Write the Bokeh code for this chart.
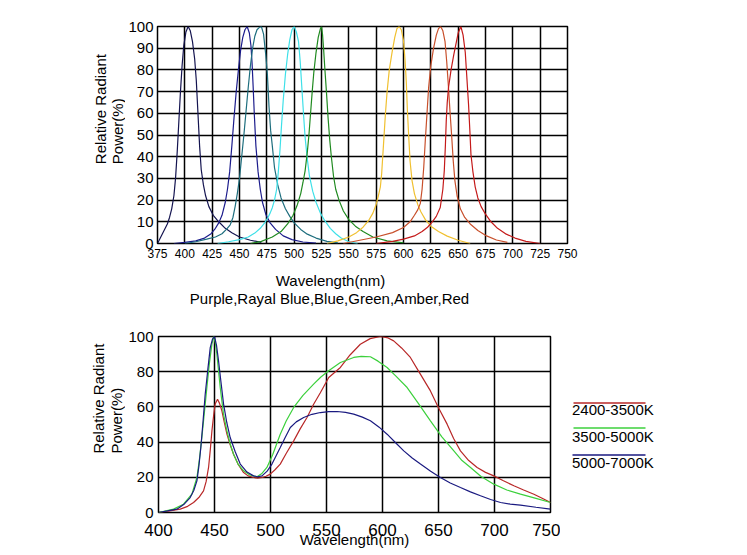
from math import pi
from bokeh.plotting import figure
from bokeh.layouts import column, row
from bokeh.models import FixedTicker, Range1d
from bokeh.core.properties import value
from bokeh.embed import file_html
from bokeh.resources import INLINE

FONT = "Liberation Sans"

# ---------------- data: top chart (single colour LEDs) ----------------
top_x_ticks = [375, 400, 425, 450, 475, 500, 525, 550, 575, 600, 625, 650, 675, 700, 725, 750]
top_y_ticks = [0, 10, 20, 30, 40, 50, 60, 70, 80, 90, 100]
top_caption = "Purple,Rayal Blue,Blue,Green,Amber,Red"

purple_x = [375, 378, 381, 384, 386, 388, 390, 391.5, 393, 394.5, 396, 397.5, 399, 401, 403, 405, 407, 409, 410.5, 412, 413.5, 415, 417, 419, 422, 426, 431, 437, 443, 450, 460, 470]
purple_y = [0, 3, 6, 9, 12, 16, 22, 30, 42, 56, 70, 82, 91, 97.5, 100, 98, 93, 85, 75, 60, 45, 34, 27, 22, 17, 13, 10, 7, 5, 3, 1.5, 0.5]

royal_x = [390, 400, 410, 418, 424, 428, 431, 434, 437, 439, 441, 443, 445, 447, 449, 451, 453, 455, 457, 459, 460.5, 461.5, 462.5, 463.5, 465, 467, 469, 471, 474, 478, 483, 490, 498, 508, 520]
royal_y = [0, 0.5, 1.2, 2.5, 4.5, 7, 9.5, 13, 19, 25, 33, 45, 58, 70, 80, 89, 95, 98.5, 100, 97, 91, 83, 72, 60, 45, 33, 25, 19, 13.5, 9.5, 6.5, 3.5, 1.8, 0.7, 0.2]

blue_x = [400, 410, 420, 428, 434, 438, 441.5, 444, 446, 448, 450, 452, 454, 456, 458, 460, 462, 464, 466, 468, 470, 472, 474, 475.5, 477, 478.5, 480, 482, 485, 488, 492, 496, 500, 506, 512, 520, 530, 540]
blue_y = [0, 0.8, 2, 3, 4.5, 6.5, 8.6, 12, 17, 23, 30, 40, 50, 61, 72, 82, 90, 95.5, 98.5, 99.5, 100, 96.5, 87, 78, 63, 52, 45, 35, 27, 21, 16, 12.5, 9.5, 6.5, 4.3, 2.5, 1, 0.3]

cyan_x = [430, 440, 450, 458, 464, 469, 473, 476, 478, 480, 482, 484, 485.5, 487, 488.5, 490, 492, 494, 496, 498, 500, 502, 504, 505.5, 507, 508.5, 510, 512, 514, 517, 520, 524, 528, 533, 538, 543, 550, 558]
cyan_y = [0, 0.8, 1.8, 3, 4.8, 7, 9.5, 12, 14, 16.5, 20, 25, 33, 43, 55, 66, 78, 87, 94, 98.5, 100, 97.5, 93, 84, 72, 60, 49, 39, 31, 24, 19, 14, 10.5, 7, 4.5, 2.5, 0.8, 0]

green_x = [460, 470, 480, 488, 494, 499, 503, 506, 508, 510, 512, 513.5, 515, 516.5, 518, 520, 522, 524, 525, 526, 527, 528, 529.5, 531, 532.5, 534, 536, 538, 541, 545, 550, 556, 563, 572, 585, 600]
green_y = [0, 1, 3, 5.5, 9, 13, 18, 23, 28, 33.5, 42, 50, 60, 70, 79, 88, 95, 99, 100, 96, 89, 81, 70, 58, 48, 40, 31, 25, 20, 15, 11, 8, 5.5, 3, 1.2, 0.3]

amber_x = [530, 540, 550, 557, 563, 568, 572, 575, 577, 578.8, 580, 581, 582, 583.5, 585, 587, 589.5, 592, 594, 596, 598, 600, 601.5, 602.6, 603.5, 604.7, 606, 607.8, 610, 613, 616, 620, 625, 632, 640, 650, 661]
amber_y = [0, 1.2, 3, 5, 7.5, 10.5, 14, 18, 22, 26, 32, 40, 48, 60, 70, 80, 88, 95, 99, 100, 98.5, 93.5, 84, 74, 62, 50, 38, 29, 23, 18, 14.5, 11, 8, 5.5, 3.4, 1.5, 0]

orange_x = [545, 560, 575, 590, 600, 606, 610, 613, 615.4, 617, 618.5, 620, 621.5, 623, 625, 627.5, 630, 632, 634, 636, 638, 639.5, 641, 642.5, 644, 645.5, 647, 649, 652, 656, 661, 668, 676, 685, 695]
orange_y = [0, 1.5, 3, 5, 7.4, 10, 13, 15.5, 18.5, 25, 35, 48, 60, 72, 82, 90, 96, 99, 100, 98, 93, 84, 73, 61, 50, 38, 29, 22, 16, 12, 9, 6, 3.5, 1.6, 0.5]

red_x = [575, 590, 600, 610, 617, 622, 626, 630, 633.6, 636, 637.3, 638.3, 639.1, 640, 641.2, 643.5, 646, 648, 650, 652.5, 654.5, 656.5, 658, 659.5, 660.7, 661.7, 663.5, 665.6, 668, 671, 675, 680, 686, 694, 702, 712, 725]
red_y = [0, 1, 2, 3.5, 5.5, 7.5, 9.7, 12.5, 16.6, 25, 33.5, 45, 56.5, 65, 72, 80, 87, 92, 97, 100, 96, 88, 76, 64, 52, 41, 33, 26, 21, 17, 13.5, 10, 7, 4.3, 2.5, 1, 0]

top_series = [
    (purple_x, purple_y, "#141450"),
    (royal_x, royal_y, "#1c1c8c"),
    (blue_x, blue_y, "#1e6e7e"),
    (cyan_x, cyan_y, "#3ee0e8"),
    (green_x, green_y, "#208a20"),
    (amber_x, amber_y, "#f0c030"),
    (orange_x, orange_y, "#c8502c"),
    (red_x, red_y, "#c41a1a"),
]

# ---------------- data: bottom chart (white LEDs) ----------------
bot_x_ticks = [400, 450, 500, 550, 600, 650, 700, 750]
bot_y_ticks = [0, 20, 40, 60, 80, 100]

warm_x = [400, 410, 419.4, 426, 431.3, 436, 440.2, 442.5, 444.7, 446.3, 447.7, 449.2, 450.6, 452.7, 454.5, 456.6, 458.8, 461.1, 464, 467, 471, 476, 480, 484.9, 488.5, 492.4, 496, 499.8, 504, 508.7, 514, 520.7, 526.5, 532.6, 538.5, 544.5, 552, 562.4, 571, 580.2, 589, 598.1, 605, 610, 617, 624.9, 633, 642.8, 650, 657.7, 663.5, 669.6, 677, 684.5, 692, 699.4, 708, 717.3, 726, 735.2, 743, 750]
warm_y = [0, 0.9, 1.9, 3.5, 5.7, 8.5, 12.3, 17.5, 25.6, 36, 46.4, 55, 61.6, 64.4, 62, 57.8, 51, 44.5, 38.5, 33.1, 27.5, 22.7, 20.8, 19.9, 19.5, 19.9, 20.6, 21.8, 24.3, 27.5, 33.5, 40.7, 47.5, 54, 61.5, 68, 76.7, 82.4, 89.5, 95.6, 98.8, 100, 99.2, 97.5, 93.5, 88.1, 79.5, 69.1, 59.5, 50.2, 42, 35, 29.5, 25.6, 22.8, 20.8, 18, 15.2, 12.8, 10.4, 8, 5.7]

neutral_x = [400, 413.4, 422.3, 429.8, 434.3, 436.5, 438.7, 441, 443.2, 445.5, 447.7, 449.2, 450.6, 452.1, 455.1, 458, 461.1, 464, 467, 471, 476, 481.5, 487.9, 492, 496.8, 502, 508.7, 514, 520.7, 529, 538.5, 545, 551.9, 562.4, 574.3, 581, 589.2, 596, 604.1, 612, 622, 632, 642.8, 653, 663.7, 671, 678.6, 688, 699.4, 711, 723.2, 737, 750]
neutral_y = [0, 1.9, 4.7, 10.4, 19.9, 30, 42.6, 57, 71, 85, 95.6, 100, 97, 90, 71, 56, 46.4, 39, 33.1, 27.5, 23.7, 21.3, 20.3, 22, 25.6, 33, 44.5, 52, 59.7, 66.5, 72.9, 77, 80.5, 85.2, 88.1, 88.7, 88.5, 86, 82.4, 77.5, 71, 62, 52.1, 43, 35, 29.5, 25.6, 20.5, 16.1, 12.8, 10.4, 8, 5.7]

cool_x = [400, 408, 416.4, 422.5, 428.3, 431.5, 434.3, 436, 437.8, 439.8, 441.7, 444, 446.2, 448.2, 450, 451.8, 453.6, 455.8, 458.1, 461, 464, 468.5, 473, 479, 484.9, 488.5, 492.4, 497, 501.3, 504.8, 508.7, 513, 517.7, 523, 529.6, 537, 544.5, 552, 559.4, 567, 574.3, 582, 589.2, 597, 604.1, 611.5, 619, 626.5, 633.9, 643, 651.7, 660.5, 669.6, 678.5, 687.5, 696.5, 705.4, 714, 723.2, 737, 750]
cool_y = [0, 0.9, 1.9, 4.5, 8.5, 12.5, 18, 26, 36.9, 52, 67.2, 81, 93.7, 98.5, 100, 95, 86.2, 74, 61.6, 51, 42.6, 34.5, 27.5, 23, 20.8, 20.3, 20.8, 23.5, 27.5, 32, 36.9, 42.5, 48.3, 51.5, 54, 55.8, 56.8, 57.3, 57.4, 56.9, 55.9, 54.2, 52.1, 48.5, 44.5, 39.8, 35, 31, 27.5, 23.5, 19.9, 16.8, 14.2, 11.7, 9.5, 7.4, 5.7, 4.8, 4.2, 3, 1.9]

legend_labels = ["2400-3500K", "3500-5000K", "5000-7000K"]
bot_colors = ["#b82828", "#3cd03c", "#1a1a80"]
bot_series = [(warm_x, warm_y), (neutral_x, neutral_y), (cool_x, cool_y)]


def style(p, xsize, ysize, xstand, ystand):
    p.outline_line_color = "black"
    p.outline_line_width = 1.5
    p.background_fill_color = "white"
    p.border_fill_color = "white"
    for g in (p.xgrid[0], p.ygrid[0]):
        g.grid_line_color = "black"
        g.grid_line_alpha = 1.0
        g.grid_line_width = 1.5
    for ax, size, stand in ((p.xaxis[0], xsize, xstand), (p.yaxis[0], ysize, ystand)):
        ax.axis_line_color = None
        ax.major_tick_line_color = None
        ax.minor_tick_line_color = None
        ax.major_tick_out = 0
        ax.major_tick_in = 0
        ax.major_label_text_font = FONT
        ax.major_label_text_font_size = size
        ax.major_label_text_color = "black"
        ax.major_label_standoff = stand


def strip(w, h):
    s = figure(width=w, height=h, x_range=Range1d(0, w), y_range=Range1d(0, h),
               output_backend="svg", toolbar_location=None, x_axis_type=None, y_axis_type=None,
               min_border=0)
    s.outline_line_color = None
    s.xgrid.visible = False
    s.ygrid.visible = False
    s.border_fill_color = "white"
    return s


def txt(s, xs, ys, texts, angle=0.0, align="center"):
    s.text(x=xs, y=ys, text=texts, angle=angle, text_font=value(FONT), text_font_size="15px",
           text_baseline="middle", text_align=align, text_color="black")


# ---------------- top section ----------------
p1 = figure(width=622, height=268, x_range=Range1d(375, 750), y_range=Range1d(0, 100),
            output_backend="svg", toolbar_location=None,
            min_border_left=32, min_border_right=180, min_border_top=26, min_border_bottom=25)
style(p1, "12px", "15px", 5, 4)
p1.xaxis.ticker = FixedTicker(ticks=top_x_ticks)
p1.yaxis.ticker = FixedTicker(ticks=top_y_ticks)
for xs, ys, c in top_series:
    p1.line(xs, ys, line_color=c, line_width=1.2)

sL1 = strip(125, 268)
txt(sL1, [100, 117], [98, 98], ["Relative Radiant", "Power(%)"], angle=pi / 2, align="left")

sB1 = strip(747, 42)
txt(sB1, [330, 329], [30, 12], ["Wavelength(nm)", top_caption])

# ---------------- bottom section ----------------
p2 = figure(width=435, height=245, x_range=Range1d(400, 750), y_range=Range1d(0, 100),
            output_backend="svg", toolbar_location=None,
            min_border_left=33, min_border_right=10, min_border_top=26, min_border_bottom=43)
style(p2, "17px", "15px", 11, 5)
p2.xaxis.ticker = FixedTicker(ticks=bot_x_ticks)
p2.yaxis.ticker = FixedTicker(ticks=bot_y_ticks)
p2.xaxis.axis_label = "Wavelength(nm)"
p2.xaxis.axis_label_text_font = FONT
p2.xaxis.axis_label_text_font_style = "normal"
p2.xaxis.axis_label_text_font_size = "15px"
p2.xaxis.axis_label_text_color = "black"
p2.xaxis.axis_label_standoff = -8
for (xs, ys), c in zip(bot_series, bot_colors):
    p2.line(xs, ys, line_color=c, line_width=1.2)

sL2 = strip(125, 245)
txt(sL2, [98, 116], [82, 82], ["Relative Radiant", "Power(%)"], angle=pi / 2, align="left")

pl = strip(187, 245)
line_y = [152.3, 117.7, 80]
text_y = [142.7, 106, 70]
pl.segment(x0=[13, 13, 12], y0=line_y, x1=[85, 85, 85], y1=line_y,
           line_color=bot_colors, line_width=1.5)
txt(pl, [11.5, 11.5, 11.5], text_y, legend_labels, align="left")

layout = column(row(sL1, p1, spacing=0), sB1, row(sL2, p2, pl, spacing=0), spacing=0)
open("out.html", "w").write(file_html(layout, INLINE))
